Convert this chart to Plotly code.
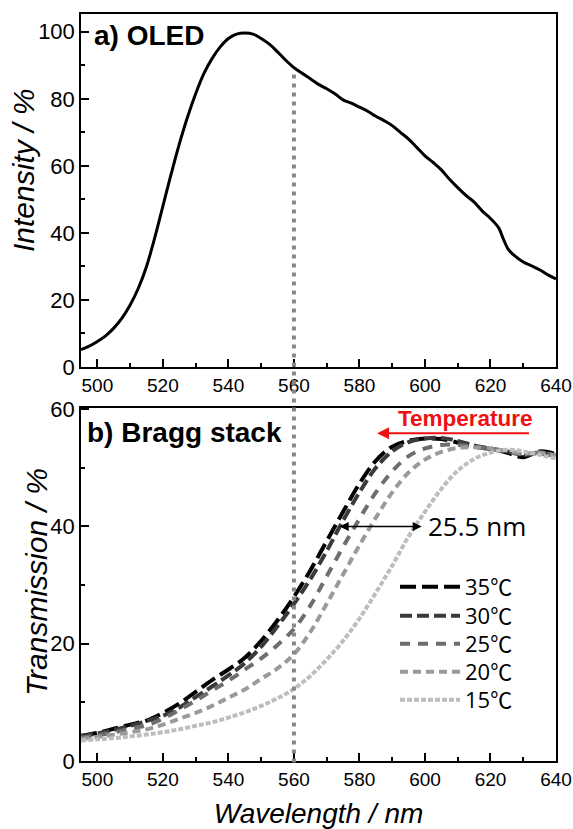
import plotly.graph_objects as go

# ---------------- data ----------------
wl_oled = [495, 497.5, 500, 502.5, 505, 507.5, 510, 512.5, 515, 517.5, 520, 522.5, 525, 527.5,
           530, 532.5, 535, 537.5, 540, 542.5, 545, 547.5, 550, 552.5, 555, 557.5, 560, 562.5,
           565, 567.5, 570, 572.5, 575, 577.5, 580, 582.5, 585, 587.5, 590, 592.5, 595, 597.5,
           600, 602.5, 605, 607.5, 610, 612.5, 615, 617.5, 620, 622.5, 624, 625.5, 627, 630,
           632.5, 635, 637.5, 640]
intensity = [5.2, 6.2, 7.6, 9.3, 11.6, 14.6, 18.5, 23.5, 30.0, 38.5, 48.0, 57.5, 66.5, 74.5,
             81.5, 87.5, 92.0, 95.5, 98.0, 99.3, 99.6, 99.3, 98.0, 96.3, 94.0, 91.5, 89.3, 87.6,
             86.0, 84.3, 83.0, 81.5, 79.7, 78.7, 77.5, 76.3, 74.8, 73.5, 72.0, 70.0, 68.0, 65.5,
             63.0, 61.0, 58.8, 56.0, 53.5, 51.2, 49.2, 46.5, 44.3, 41.5, 38.0, 35.0, 33.5, 31.3,
             30.2, 29.0, 27.5, 26.3]

wl_bragg = [495, 500, 505, 510, 515, 520, 525, 530, 535, 540, 545, 550, 555, 560, 565, 570,
            575, 580, 585, 590, 595, 600, 605, 610, 615, 620, 625, 630, 635, 640]
t35 = [4.3, 4.8, 5.5, 6.2, 6.9, 8.2, 9.8, 11.8, 13.8, 15.6, 17.6, 20.5, 24.0, 28.0, 32.5, 37.5,
       42.5, 47.3, 51.2, 53.6, 54.6, 55.0, 54.9, 54.3, 53.6, 53.2, 52.6, 51.8, 52.8, 52.3]
t30 = [4.2, 4.7, 5.3, 6.0, 6.8, 7.7, 9.1, 10.9, 12.7, 14.6, 16.7, 19.5, 23.0, 26.8, 31.0, 35.8,
       41.0, 45.8, 50.0, 52.8, 54.4, 55.0, 55.1, 54.6, 53.8, 53.3, 52.8, 52.2, 52.5, 52.0]
t25 = [4.0, 4.4, 4.9, 5.5, 6.1, 7.2, 8.7, 10.3, 12.0, 13.7, 15.6, 17.5, 19.8, 22.5, 26.5, 31.5,
       36.5, 41.3, 45.8, 49.4, 52.0, 53.3, 53.9, 53.9, 53.6, 53.2, 52.8, 52.3, 52.6, 52.1]
t20 = [3.8, 4.1, 4.5, 4.9, 5.4, 6.2, 7.2, 8.2, 9.4, 10.8, 12.2, 14.0, 15.8, 18.2, 22.0, 26.8,
       31.8, 36.8, 41.5, 45.8, 49.2, 51.4, 52.7, 53.4, 53.5, 53.3, 52.9, 52.4, 52.6, 52.0]
t15 = [3.5, 3.7, 3.9, 4.2, 4.5, 4.9, 5.4, 6.0, 6.6, 7.4, 8.3, 9.4, 10.7, 12.3, 14.5, 17.3,
       20.5, 24.3, 28.7, 33.3, 38.3, 42.5, 46.4, 49.5, 51.5, 52.6, 53.1, 52.8, 52.2, 51.6]

series_names = ["35℃", "30℃", "25℃", "20℃", "15℃"]
series_vals = [t35, t30, t25, t20, t15]
series_colors = ["#000000", "#3a3a3a", "#6e6e6e", "#9a9a9a", "#bdbdbd"]
series_dash = ["16px,6px", "12px,5px", "10px,8px", "8px,5px", "5px,2px"]

marker_wl = 560
shift_start, shift_end, shift_level = 573.5, 599.0, 40
temp_arrow_from, temp_arrow_to, temp_arrow_level = 632.2, 585.4, 55.9

# ---------------- figure ----------------
W, H = 573, 829
ML, MR, MT, MB = 81, 17, 14, 68
PH = H - MT - MB
PW = W - ML - MR

def py(p):  # pixel y -> paper
    return (H - MB - p) / PH

def px(p):  # pixel x -> paper
    return (p - ML) / PW

SANS = "Liberation Sans, Arial, sans-serif"
OPEN = "Open Sans, Noto Sans CJK SC, sans-serif"

fig = go.Figure()
fig.add_trace(go.Scatter(x=wl_oled, y=intensity, mode="lines",
                         line=dict(color="black", width=3, shape="spline"),
                         showlegend=False, xaxis="x", yaxis="y", hoverinfo="skip"))

legend_ys = [587, 616, 644, 672, 700]
legend_keys = ["legend", "legend2", "legend3", "legend4", "legend5"]
for name, vals, col, dash, lk in zip(series_names, series_vals, series_colors, series_dash, legend_keys):
    fig.add_trace(go.Scatter(x=wl_bragg, y=vals, mode="lines", name=name,
                             line=dict(color=col, width=4, dash=dash, shape="spline"),
                             xaxis="x2", yaxis="y2", legend=lk))

axis_common = dict(showline=True, mirror=True, linecolor="black", linewidth=1.5,
                   showgrid=False, zeroline=False, ticks="inside", ticklen=8, tickwidth=1.5,
                   tickcolor="black", automargin=False,
                   minor=dict(ticks="inside", ticklen=4, tickwidth=1.5, tickcolor="black", dtick=10))

layout = dict(
    template="none",
    width=W, height=H,
    margin=dict(l=ML, r=MR, t=MT, b=MB, autoexpand=False),
    paper_bgcolor="white", plot_bgcolor="white",
    xaxis=dict(domain=[0, 1], range=[495, 640], anchor="y", dtick=20,
               tickfont=dict(family=SANS, size=19, color="black"), **axis_common),
    yaxis=dict(domain=[py(367), 1], range=[0, 105.3], anchor="x", dtick=20,
               tickfont=dict(family=SANS, size=22, color="black"), **axis_common),
    xaxis2=dict(domain=[0, 1], range=[495, 640], anchor="y2", dtick=20,
                tickfont=dict(family=SANS, size=19, color="black"),
                title=dict(text="<i>Wavelength / nm</i>", font=dict(family=SANS, size=28, color="black"),
                           standoff=16),
                **axis_common),
    yaxis2=dict(domain=[0, py(408)], range=[0, 60.2], anchor="x2", dtick=20,
                tickfont=dict(family=SANS, size=22, color="black"), **axis_common),
)
for lk, ly in zip(legend_keys, legend_ys):
    layout[lk] = dict(x=px(395), y=py(ly), xanchor="left", yanchor="middle",
                      bgcolor="rgba(0,0,0,0)", borderwidth=0, itemwidth=60,
                      font=dict(family=OPEN, size=22, color="black"))
fig.update_layout(**layout)

fig.add_shape(type="line", xref="x", yref="paper", x0=marker_wl, x1=marker_wl,
              y0=-0.002, y1=py(70), line=dict(color="#888888", width=4, dash="4px,5px"))

# axis titles (rotated)
fig.add_annotation(text="<i>Intensity / %</i>", xref="paper", yref="paper", x=px(24), y=py(171),
                   xanchor="center", yanchor="middle", textangle=-90, showarrow=False,
                   font=dict(family=SANS, size=30, color="black"))
fig.add_annotation(text="<i>Transmission / %</i>", xref="paper", yref="paper", x=px(36), y=py(582),
                   xanchor="center", yanchor="middle", textangle=-90, showarrow=False,
                   font=dict(family=SANS, size=30, color="black"))

fig.add_annotation(text="<b>a) OLED</b>", xref="paper", yref="paper", x=px(92), y=py(35),
                   xanchor="left", yanchor="middle", showarrow=False,
                   font=dict(family=SANS, size=28, color="black"))
fig.add_annotation(text="<b>b) Bragg stack</b>", xref="paper", yref="paper", x=px(85), y=py(432),
                   xanchor="left", yanchor="middle", showarrow=False,
                   font=dict(family=SANS, size=28, color="black"))
fig.add_annotation(text="<b>Temperature</b>", xref="paper", yref="paper", x=px(465), y=py(418),
                   xanchor="center", yanchor="middle", showarrow=False,
                   font=dict(family=SANS, size=22.5, color="#ee1111"))
fig.add_annotation(text="", xref="x2", yref="y2", x=temp_arrow_to, y=temp_arrow_level,
                   ax=temp_arrow_from, ay=temp_arrow_level, axref="x2", ayref="y2",
                   showarrow=True, arrowhead=2, arrowsize=1.2, arrowwidth=2, arrowcolor="#ee1111")
fig.add_annotation(text="", xref="x2", yref="y2", x=shift_end, y=shift_level,
                   ax=shift_start, ay=shift_level, axref="x2", ayref="y2",
                   showarrow=True, arrowhead=2, startarrowhead=2, arrowside="end+start",
                   arrowsize=1.2, startarrowsize=1.2, arrowwidth=1.5, arrowcolor="black")
fig.add_annotation(text="25.5 nm", xref="x2", yref="y2", x=shift_end + 1.2, y=shift_level,
                   xanchor="left", yanchor="middle", showarrow=False,
                   font=dict(family=OPEN, size=26, color="black"))

fig.write_html("out.html")
